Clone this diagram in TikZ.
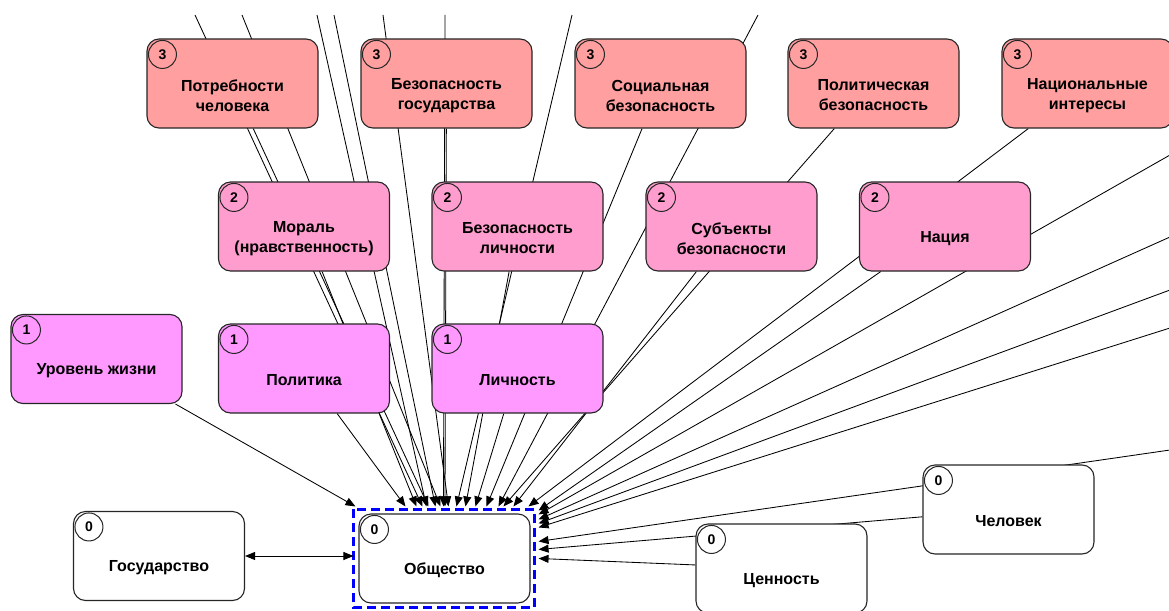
\documentclass[tikz,border=0pt]{standalone}
\usepackage{fontspec}
\setmainfont{Liberation Sans}
\usetikzlibrary{arrows.meta,backgrounds,calc}
\definecolor{lvlthree}{RGB}{255,159,159}
\definecolor{lvltwo}{RGB}{255,158,206}
\definecolor{lvlone}{RGB}{255,153,255}
\definecolor{selblue}{RGB}{0,0,255}
\tikzset{
  box/.style={draw=black!85, line width=1.1pt, rounded corners=12pt, minimum width=171pt, minimum height=89pt, inner sep=0pt},
  badge/.style={circle, draw=black!85, line width=1pt, minimum size=28pt, inner sep=0pt, font=\fontsize{14}{14}\selectfont\bfseries},
  boxtext/.style={align=center, inner sep=0pt, font=\fontsize{16}{20}\selectfont\bfseries},
  conn/.style={draw=black, line width=0.85pt, -{Triangle[length=10pt,width=8pt]}},
  selframe/.style={draw=selblue, line width=3pt, dash pattern=on 9pt off 5pt}
}
\def\rbox(#1)(#2,#3)#4#5#6{%
  \node[box, fill=#5] (#1) at (#2,#3) {};
  \node[badge] (#1-n) at ($(#1.north west)+(16,16)$) {#4};
  \node[boxtext] (#1-t) at ($(#1.center)+(0,12)$) {#6};
}

\begin{document}
\begin{tikzpicture}[x=1pt, y=-1pt]
			%%%%% START %%%%%
			\useasboundingbox (0,0) rectangle (1169,610);
			
			% level 3
			\rbox(potr)(232.5,83.5){3}{lvlthree}{Потребности\\человека}
			\rbox(gos)(446.5,83.5){3}{lvlthree}{Безопасность\\государства}
			\rbox(soc)(660.5,83.5){3}{lvlthree}{Социальная\\безопасность}
			\rbox(pol)(873.5,83.5){3}{lvlthree}{Политическая\\безопасность}
			\rbox(nat)(1087.5,83.5){3}{lvlthree}{Национальные\\интересы}
			
			% level 2
			\rbox(moral)(304,226.5){2}{lvltwo}{Мораль\\(нравственность)}
			\rbox(bezl)(517.5,226.5){2}{lvltwo}{Безопасность\\личности}
			\rbox(subj)(731.5,226.5){2}{lvltwo}{Субъекты\\безопасности}
			\rbox(nac)(945,226.5){2}{lvltwo}{Нация}
			
			% level 1
			\rbox(urov)(96.5,359){1}{lvlone}{Уровень жизни}
			\rbox(polit)(304,368.5){1}{lvlone}{Политика}
			\rbox(lich)(517.5,368.5){1}{lvlone}{Личность}
			
			% level 0
			\rbox(gosudar)(159,556){0}{white}{Государство}
			\rbox(obs)(444.5,558.5){0}{white}{Общество}
			\rbox(cen)(781.5,568.5){0}{white}{Ценность}
			\rbox(chel)(1008.5,509.5){0}{white}{Человек}
			
			\draw[selframe] ([shift={(-5,-4)}]obs.north west) rectangle ([shift={(4,4)}]obs.south east);
			
			% free ends at the edges
			\coordinate (t1) at (195,15);
			\coordinate (t2) at (242,15);
			\coordinate (t3) at (317,15);
			\coordinate (t4) at (334,15);
			\coordinate (t5) at (383,15);
			\coordinate (t6) at (445,15);
			\coordinate (t7) at (572,15);
			\coordinate (t8) at (758,15);
			\coordinate (r0) at (1170,155);
			\coordinate (r1) at (1170,237);
			\coordinate (r2) at (1170,290);
			\coordinate (r3) at (1170,328);
			\coordinate (r4) at (1170,450);
			
			\begin{pgfonlayer}{background}
			\draw[conn] (urov) -- ([shift={(-3,-7)}]obs.north west);
			\draw[conn] (polit) -- ([shift={(47,-7)}]obs.north west);
			\draw[conn] (moral) -- ([shift={(58,-7)}]obs.north west);
			\draw[conn] (potr) -- ([shift={(70,-7)}]obs.north west);
			\draw[conn] (t1) -- ([shift={(64,-7)}]obs.north west);
			\draw[conn] (t2) -- ([shift={(82,-7)}]obs.north west);
			\draw[conn] (t3) -- ([shift={(68,-7)}]obs.north west);
			\draw[conn] (t4) -- ([shift={(77,-7)}]obs.north west);
			\draw[conn] (t5) -- ([shift={(90,-7)}]obs.north west);
			\draw[conn] (gos) -- ([shift={(86.5,-7)}]obs.north west);
			\draw[conn] (t6) -- ([shift={(85,-7)}]obs.north west);
			\draw[conn] (bezl) -- ([shift={(107,-7)}]obs.north west);
			\draw[conn] (lich) -- ([shift={(117,-7)}]obs.north west);
			\draw[conn] (t7) -- ([shift={(98,-7)}]obs.north west);
			\draw[conn] (soc) -- ([shift={(128,-7)}]obs.north west);
			\draw[conn] (t8) -- ([shift={(140,-7)}]obs.north west);
			\draw[conn] (pol) -- ([shift={(145,-7)}]obs.north west);
			\draw[conn] (subj) -- ([shift={(155,-7)}]obs.north west);
			\draw[conn] (nat) -- ([shift={(170,-7)}]obs.north west);
			\draw[conn] (nac) -- ([shift={(8,-3)}]obs.north east);
			\draw[conn] (r0) -- ([shift={(8,1)}]obs.north east);
			\draw[conn] (r1) -- ([shift={(8,6)}]obs.north east);
			\draw[conn] (r2) -- ([shift={(8,10)}]obs.north east);
			\draw[conn] (r3) -- ([shift={(8,14)}]obs.north east);
			\draw[conn] (r4) -- ([shift={(8,28)}]obs.north east);
			\draw[conn] (chel) -- ([shift={(8,36)}]obs.north east);
			\draw[conn] (cen) -- ([shift={(8,45)}]obs.north east);
			\end{pgfonlayer}
			
			\draw[conn, {Triangle[length=10pt,width=8pt]}-{Triangle[length=10pt,width=8pt]}] (gosudar.east) -- ([xshift=-5pt]obs.west |- gosudar.east);
			
			%%%%% END %%%%%
\end{tikzpicture}
\end{document}
